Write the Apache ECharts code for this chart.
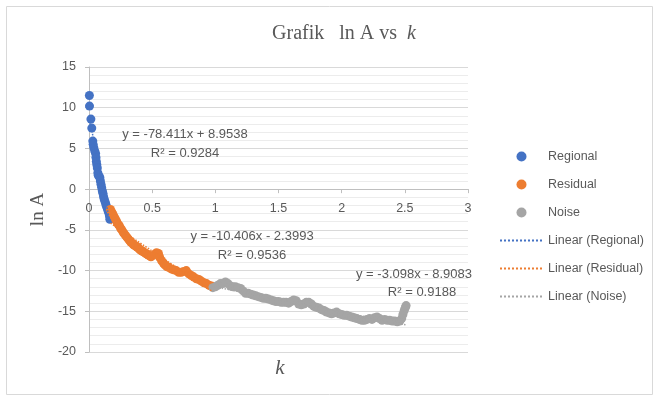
<!DOCTYPE html>
<html>
<head>
<meta charset="utf-8">
<script src="https://cdn.jsdelivr.net/npm/echarts@6/dist/echarts.min.js"></script>
<style>
  html, body { margin: 0; padding: 0; background: #fff; }
  #chart { width: 659px; height: 400px; }
</style>
</head>
<body>
<div id="chart"></div>
<script>
// titik data (k, ln A)
var regional = [
  [0.003, 11.5], [0.004, 10.2], [0.015, 8.6], [0.022, 7.5], [0.030, 5.9], [0.033, 5.5],
  [0.038, 5.1], [0.045, 4.7], [0.052, 4.4], [0.055, 3.9], [0.058, 3.4], [0.062, 3.0],
  [0.066, 2.6], [0.070, 2.0], [0.073, 1.7], [0.080, 1.6], [0.086, 1.4], [0.090, 1.0],
  [0.095, 0.6], [0.100, 0.2], [0.105, -0.2], [0.110, -0.5], [0.115, -0.9], [0.120, -1.2],
  [0.126, -1.5], [0.132, -1.8], [0.138, -2.1], [0.145, -2.4], [0.152, -2.7], [0.158, -3.0],
  [0.162, -3.3], [0.165, -3.7]
];
var residual = [
  [0.17, -2.5], [0.18, -2.8], [0.19, -3.1], [0.20, -3.4], [0.21, -3.7], [0.22, -4.0],
  [0.23, -4.3], [0.24, -4.5], [0.25, -4.8], [0.26, -5.0], [0.27, -5.3], [0.28, -5.5],
  [0.29, -5.7], [0.30, -5.9], [0.31, -6.1], [0.32, -6.3], [0.33, -6.5], [0.34, -6.6],
  [0.35, -6.8], [0.36, -6.9], [0.37, -7.0], [0.38, -7.1], [0.39, -7.2], [0.40, -7.4],
  [0.41, -7.5], [0.42, -7.6], [0.43, -7.7], [0.44, -7.8], [0.45, -7.9], [0.46, -8.0],
  [0.47, -8.1], [0.48, -8.2], [0.49, -8.3], [0.50, -8.2], [0.52, -8.0], [0.535, -7.8],
  [0.55, -7.9], [0.56, -8.4], [0.575, -8.8], [0.59, -9.1], [0.60, -9.3], [0.615, -9.5],
  [0.63, -9.6], [0.65, -9.8], [0.67, -9.9], [0.69, -10.0], [0.71, -10.2], [0.73, -10.2],
  [0.75, -10.1], [0.77, -10.0], [0.79, -10.4], [0.81, -10.6], [0.83, -10.8], [0.85, -11.0],
  [0.87, -11.1], [0.89, -11.3], [0.91, -11.5], [0.93, -11.6], [0.95, -11.8], [0.97, -11.9]
];
var noise = [
  [0.98, -12.1], [1.00, -12.0], [1.02, -11.8], [1.04, -11.6], [1.06, -11.6], [1.08, -11.4],
  [1.10, -11.6], [1.12, -11.9], [1.14, -12.0], [1.16, -12.0], [1.18, -12.1], [1.20, -12.2],
  [1.22, -12.5], [1.24, -12.8], [1.26, -12.8], [1.28, -12.9], [1.30, -13.0], [1.32, -13.1],
  [1.34, -13.2], [1.36, -13.3], [1.38, -13.4], [1.40, -13.4], [1.42, -13.5], [1.44, -13.6],
  [1.46, -13.7], [1.48, -13.8], [1.50, -13.8], [1.52, -13.9], [1.54, -13.9], [1.56, -13.9],
  [1.58, -14.0], [1.60, -13.8], [1.62, -13.6], [1.64, -13.7], [1.66, -14.1], [1.68, -14.2],
  [1.70, -14.1], [1.72, -13.9], [1.74, -13.9], [1.76, -14.1], [1.78, -14.4], [1.80, -14.5],
  [1.82, -14.6], [1.84, -14.8], [1.86, -14.9], [1.88, -15.1], [1.90, -15.2], [1.92, -15.3],
  [1.94, -15.2], [1.96, -15.1], [1.98, -15.3], [2.00, -15.4], [2.02, -15.5], [2.04, -15.5],
  [2.06, -15.6], [2.08, -15.7], [2.10, -15.8], [2.12, -15.9], [2.14, -16.0], [2.16, -16.1],
  [2.18, -16.1], [2.20, -16.0], [2.22, -15.9], [2.24, -16.0], [2.26, -15.8], [2.28, -15.7],
  [2.30, -15.9], [2.32, -16.1], [2.34, -16.0], [2.36, -16.1], [2.38, -16.1], [2.40, -16.2],
  [2.42, -16.2], [2.44, -16.3], [2.46, -16.2], [2.475, -15.9], [2.485, -15.4], [2.495, -14.9],
  [2.505, -14.5], [2.51, -14.3]
];

// ujung garis trendline (dari persamaan di grafik)
var trendRegional = [[0, 8.95], [0.165, -3.98]];
var trendResidual = [[0.17, -4.17], [0.97, -12.49]];
var trendNoise = [[0.98, -11.94], [2.51, -16.68]];

var eqRegional = ['y = -78.411x + 8.9538', 'R\u00b2 = 0.9284'];
var eqResidual = ['y = -10.406x - 2.3993', 'R\u00b2 = 0.9536'];
var eqNoise = ['y = -3.098x - 8.9083', 'R\u00b2 = 0.9188'];

var seriesNames = ['Regional', 'Residual', 'Noise', 'Linear (Regional)', 'Linear (Residual)', 'Linear (Noise)'];
var colors = ['#4472c4', '#ed7d31', '#a5a5a5'];

var yMin = -20, yMax = 15;
var gridTop = 67, gridBottom = 48;
// sumbu x memotong di y = 0 (geser ke atas dari bawah grid)
var xAxisShift = (400 - gridTop - gridBottom) * (0 - yMin) / (yMax - yMin);

var labelFont = '13px "Liberation Sans", Arial, sans-serif';
var grey = '#595959';

function eqText(x, y, txt) {
  return {
    type: 'text', z: 100,
    style: { x: x, y: y, text: txt, font: labelFont, fill: grey, align: 'center', verticalAlign: 'middle' }
  };
}

// legenda garis: sembunyikan titik di tengah ikon
var legendData = seriesNames.map(function (n, i) {
  if (i < 3) return { name: n };
  return { name: n, itemStyle: { opacity: 0 } };
});

var chart = echarts.init(document.getElementById('chart'));
var option = {
  animation: false,
  grid: { left: 89, right: 191, top: gridTop, bottom: gridBottom },
  legend: {
    orient: 'vertical',
    left: 494,
    top: 145,
    itemWidth: 43,
    itemHeight: 10,
    itemGap: 15,
    data: legendData,
    textStyle: { color: grey, fontSize: 12.5, fontFamily: 'Liberation Sans' }
  },
  xAxis: {
    type: 'value',
    position: 'bottom',
    offset: -xAxisShift,
    min: 0, max: 3, interval: 0.5,
    axisLine: { onZero: false, lineStyle: { color: '#bfbfbf' } },
    axisTick: { show: true, length: 4, lineStyle: { color: '#bfbfbf' } },
    axisLabel: { color: grey, fontSize: 12.5, fontFamily: 'Liberation Sans', margin: 13 },
    splitLine: { show: false }
  },
  yAxis: {
    type: 'value',
    min: yMin, max: yMax, interval: 5,
    name: 'ln A',
    nameLocation: 'middle',
    nameGap: 41,
    nameRotate: 90,
    nameTextStyle: { color: grey, fontSize: 19, fontFamily: 'Liberation Serif' },
    axisLine: { show: true, onZero: false, lineStyle: { color: '#bfbfbf' } },
    axisTick: { show: true, length: 4, lineStyle: { color: '#bfbfbf' } },
    axisLabel: { color: grey, fontSize: 12.5, fontFamily: 'Liberation Sans', margin: 13 },
    splitLine: { lineStyle: { color: '#d9d9d9' } },
    minorTick: { show: false, splitNumber: 5 },
    minorSplitLine: { show: true, lineStyle: { color: '#ececec' } }
  },
  series: [
    { name: seriesNames[0], type: 'scatter', data: regional, symbolSize: 9, itemStyle: { color: colors[0], opacity: 1 } },
    { name: seriesNames[1], type: 'scatter', data: residual, symbolSize: 9, itemStyle: { color: colors[1], opacity: 1 } },
    { name: seriesNames[2], type: 'scatter', data: noise, symbolSize: 9, itemStyle: { color: colors[2], opacity: 1 } },
    { name: seriesNames[3], type: 'line', data: trendRegional, symbol: 'none', z: 5,
      lineStyle: { color: colors[0], width: 1.5, type: 'dotted' }, itemStyle: { color: colors[0] } },
    { name: seriesNames[4], type: 'line', data: trendResidual, symbol: 'none', z: 5,
      lineStyle: { color: colors[1], width: 1.5, type: 'dotted' }, itemStyle: { color: colors[1] } },
    { name: seriesNames[5], type: 'line', data: trendNoise, symbol: 'none', z: 5,
      lineStyle: { color: colors[2], width: 1.5, type: 'dotted' }, itemStyle: { color: colors[2] } }
  ],
  graphic: [
    {
      type: 'rect', z: -10, silent: true,
      shape: { x: 6.5, y: 6.5, width: 646, height: 388 },
      style: { fill: 'none', stroke: '#d9d9d9', lineWidth: 1 }
    },
    {
      type: 'text', z: 100,
      style: {
        x: 344, y: 34, align: 'center', verticalAlign: 'middle',
        text: '{a|Grafik   ln A vs  }{b|k}',
        rich: {
          a: { fontFamily: 'Liberation Serif', fontSize: 20, fill: grey },
          b: { fontFamily: 'Liberation Serif', fontSize: 20, fontStyle: 'italic', fill: grey }
        }
      }
    },
    {
      type: 'text', z: 100,
      style: {
        x: 280, y: 368, align: 'center', verticalAlign: 'middle',
        text: 'k', font: 'italic 21px "Liberation Serif", serif', fill: grey
      }
    },
    eqText(185, 134, eqRegional[0]),
    eqText(185, 153, eqRegional[1]),
    eqText(252, 236, eqResidual[0]),
    eqText(252, 255, eqResidual[1]),
    eqText(414, 274, eqNoise[0]),
    eqText(422, 292, eqNoise[1])
  ]
};
chart.setOption(option);
</script>
</body>
</html>
